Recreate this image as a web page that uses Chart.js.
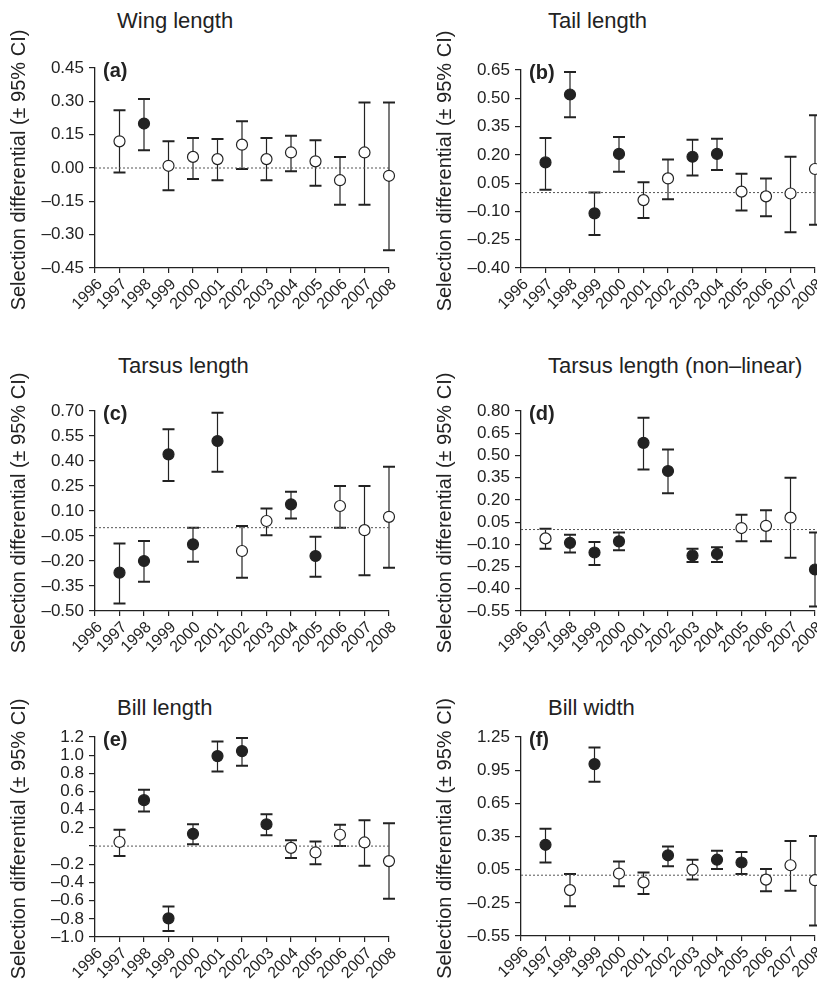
<!DOCTYPE html>
<html>
<head>
<meta charset="utf-8">
<script src="https://cdn.jsdelivr.net/npm/chart.js@4.4.0/dist/chart.umd.min.js"></script>
<style>
  html, body { margin: 0; padding: 0; background: #fff; overflow: hidden; }
  body { width: 817px; height: 981px; position: relative; font-family: "Liberation Sans", Arial, sans-serif; }
  canvas { position: absolute; }
  .ttl { position: absolute; font-size: 22px; line-height: 22px; color: #222; white-space: nowrap; }
</style>
</head>
<body>
<script>
// ---- data ----
const years = [1997, 1998, 1999, 2000, 2001, 2002, 2003, 2004, 2005, 2006, 2007, 2008];
const yearTicks = [1996, 1997, 1998, 1999, 2000, 2001, 2002, 2003, 2004, 2005, 2006, 2007, 2008];

// (a) wing length
const wingMean = [0.12, 0.20, 0.01, 0.05, 0.04, 0.105, 0.04, 0.07, 0.03, -0.055, 0.07, -0.035];
const wingLow  = [-0.02, 0.08, -0.10, -0.05, -0.055, -0.005, -0.055, -0.015, -0.08, -0.165, -0.165, -0.37];
const wingHigh = [0.26, 0.31, 0.12, 0.135, 0.13, 0.21, 0.135, 0.145, 0.125, 0.05, 0.295, 0.295];
const wingSig  = [0, 1, 0, 0, 0, 0, 0, 0, 0, 0, 0, 0];
const wingTicks = [-0.45, -0.30, -0.15, 0, 0.15, 0.30, 0.45];
const wingTickLabels = ['\u20130.45', '\u20130.30', '\u20130.15', '0.00', '0.15', '0.30', '0.45'];

// (b) tail length
const tailMean = [0.16, 0.52, -0.11, 0.205, -0.04, 0.075, 0.19, 0.205, 0.005, -0.02, -0.005, 0.125];
const tailLow  = [0.015, 0.40, -0.225, 0.11, -0.135, -0.035, 0.09, 0.12, -0.095, -0.125, -0.21, -0.17];
const tailHigh = [0.29, 0.64, 0.0, 0.295, 0.055, 0.175, 0.28, 0.285, 0.10, 0.075, 0.19, 0.41];
const tailSig  = [1, 1, 1, 1, 0, 0, 1, 1, 0, 0, 0, 0];
const tailTicks = [-0.40, -0.25, -0.10, 0.05, 0.20, 0.35, 0.50, 0.65];
const tailTickLabels = ['\u20130.40', '\u20130.25', '\u20130.10', '0.05', '0.20', '0.35', '0.50', '0.65'];

// (c) tarsus length
const tarsusMean = [-0.27, -0.20, 0.44, -0.10, 0.52, -0.14, 0.04, 0.14, -0.17, 0.13, -0.015, 0.065];
const tarsusLow  = [-0.455, -0.325, 0.28, -0.205, 0.335, -0.30, -0.045, 0.055, -0.295, 0.0, -0.285, -0.24];
const tarsusHigh = [-0.095, -0.08, 0.59, 0.0, 0.69, 0.01, 0.115, 0.215, -0.055, 0.25, 0.25, 0.365];
const tarsusSig  = [1, 1, 1, 1, 1, 0, 0, 1, 1, 0, 0, 0];
const tarsusTicks = [-0.50, -0.35, -0.20, -0.05, 0.10, 0.25, 0.40, 0.55, 0.70];
const tarsusTickLabels = ['\u20130.50', '\u20130.35', '\u20130.20', '\u20130.05', '0.10', '0.25', '0.40', '0.55', '0.70'];

// (d) tarsus length, non-linear
const tarsusNlMean = [-0.06, -0.09, -0.155, -0.08, 0.585, 0.395, -0.175, -0.165, 0.01, 0.025, 0.08, -0.27];
const tarsusNlLow  = [-0.13, -0.155, -0.24, -0.14, 0.405, 0.245, -0.22, -0.22, -0.08, -0.08, -0.19, -0.52];
const tarsusNlHigh = [0.005, -0.035, -0.085, -0.02, 0.755, 0.54, -0.13, -0.12, 0.10, 0.13, 0.35, -0.02];
const tarsusNlSig  = [0, 1, 1, 1, 1, 1, 1, 1, 0, 0, 0, 1];
const tarsusNlTicks = [-0.55, -0.40, -0.25, -0.10, 0.05, 0.20, 0.35, 0.50, 0.65, 0.80];
const tarsusNlTickLabels = ['\u20130.55', '\u20130.40', '\u20130.25', '\u20130.10', '0.05', '0.20', '0.35', '0.50', '0.65', '0.80'];

// (e) bill length
const billLenMean = [0.045, 0.505, -0.795, 0.135, 0.99, 1.045, 0.24, -0.02, -0.07, 0.125, 0.04, -0.165];
const billLenLow  = [-0.11, 0.38, -0.935, 0.02, 0.82, 0.885, 0.12, -0.13, -0.20, 0.0, -0.215, -0.58];
const billLenHigh = [0.18, 0.62, -0.665, 0.24, 1.15, 1.19, 0.35, 0.065, 0.05, 0.235, 0.285, 0.25];
const billLenSig  = [0, 1, 1, 1, 1, 1, 1, 0, 0, 0, 0, 0];
const billLenTicks = [-1.0, -0.8, -0.6, -0.4, -0.2, 0, 0.2, 0.4, 0.6, 0.8, 1.0, 1.2];
const billLenTickLabels = ['\u20131.0', '\u20130.8', '\u20130.6', '\u20130.4', '\u20130.2', '', '0.2', '0.4', '0.6', '0.8', '1.0', '1.2'];

// (f) bill width
const billWidMean = [0.275, -0.135, 1.005, 0.015, -0.065, 0.18, 0.05, 0.14, 0.115, -0.04, 0.09, -0.045];
const billWidLow  = [0.115, -0.28, 0.845, -0.10, -0.17, 0.08, -0.04, 0.055, 0.01, -0.145, -0.14, -0.455];
const billWidHigh = [0.42, 0.01, 1.155, 0.125, 0.025, 0.26, 0.14, 0.22, 0.21, 0.055, 0.31, 0.355];
const billWidSig  = [1, 0, 1, 0, 0, 1, 0, 1, 1, 0, 0, 0];
const billWidTicks = [-0.55, -0.25, 0.05, 0.35, 0.65, 0.95, 1.25];
const billWidTickLabels = ['\u20130.55', '\u20130.25', '0.05', '0.35', '0.65', '0.95', '1.25'];

const yTitle = 'Selection differential (\u00b1 95% CI)';
const INK = '#222';
const FONT = '"Liberation Sans", Arial, sans-serif';
const PAD_TOP = 52;

Chart.defaults.font.family = FONT;
Chart.defaults.color = INK;

// ---- panel layout (positions only; plotTop = pixel row of the top y tick) ----
const panels = [
  { letter: '(a)', title: 'Wing length', left: 0, plotTop: 68, plotH: 200, tx: 117, ty: 10,
    mean: wingMean, low: wingLow, high: wingHigh, sig: wingSig, ticks: wingTicks, labels: wingTickLabels },
  { letter: '(b)', title: 'Tail length', left: 426, plotTop: 70, plotH: 198, tx: 548, ty: 10,
    mean: tailMean, low: tailLow, high: tailHigh, sig: tailSig, ticks: tailTicks, labels: tailTickLabels },
  { letter: '(c)', title: 'Tarsus length', left: 0, plotTop: 411, plotH: 200, tx: 118, ty: 355,
    mean: tarsusMean, low: tarsusLow, high: tarsusHigh, sig: tarsusSig, ticks: tarsusTicks, labels: tarsusTickLabels },
  { letter: '(d)', title: 'Tarsus length (non\u2013linear)', left: 426, plotTop: 411, plotH: 200, tx: 548, ty: 355,
    mean: tarsusNlMean, low: tarsusNlLow, high: tarsusNlHigh, sig: tarsusNlSig, ticks: tarsusNlTicks, labels: tarsusNlTickLabels },
  { letter: '(e)', title: 'Bill length', left: 0, plotTop: 737, plotH: 200, tx: 117, ty: 697,
    mean: billLenMean, low: billLenLow, high: billLenHigh, sig: billLenSig, ticks: billLenTicks, labels: billLenTickLabels },
  { letter: '(f)', title: 'Bill width', left: 426, plotTop: 737, plotH: 199, tx: 548, ty: 697,
    mean: billWidMean, low: billWidLow, high: billWidHigh, sig: billWidSig, ticks: billWidTicks, labels: billWidTickLabels }
];

// error bars, drawn through the chart's own scales
function errorBars(low, high) {
  return {
    id: 'errorBars',
    beforeDatasetsDraw(chart) {
      const { ctx, scales: { x, y } } = chart;
      ctx.save();
      ctx.strokeStyle = INK;
      low.forEach((lo, i) => {
        const px = x.getPixelForValue(years[i]);
        const yl = y.getPixelForValue(lo);
        const yh = y.getPixelForValue(high[i]);
        ctx.lineWidth = 1.2;
        ctx.beginPath(); ctx.moveTo(px, yl); ctx.lineTo(px, yh); ctx.stroke();
        ctx.lineWidth = 2;
        ctx.beginPath();
        ctx.moveTo(px - 6, yl); ctx.lineTo(px + 6, yl);
        ctx.moveTo(px - 6, yh); ctx.lineTo(px + 6, yh);
        ctx.stroke();
      });
      ctx.restore();
    }
  };
}

// panel letter inside the plot + rotated y title (chart.js clips long axis titles)
function panelText(txt) {
  return {
    id: 'panelText',
    afterDraw(chart) {
      const { ctx, chartArea } = chart;
      ctx.save();
      ctx.font = 'bold 20px ' + FONT;
      ctx.fillStyle = INK;
      ctx.textBaseline = 'middle';
      ctx.fillText(txt, chartArea.left + 8, chartArea.top + 3);

      ctx.font = '20px ' + FONT;
      ctx.translate(19, (chartArea.top + chartArea.bottom) / 2 + 2);
      ctx.rotate(-Math.PI / 2);
      ctx.textAlign = 'center';
      ctx.fillText(yTitle, 0, 0);
      ctx.restore();
    }
  };
}

panels.forEach(p => {
  const t = document.createElement('div');
  t.className = 'ttl';
  t.style.left = p.tx + 'px';
  t.style.top = p.ty + 'px';
  t.textContent = p.title;
  document.body.appendChild(t);

  const cv = document.createElement('canvas');
  const h = PAD_TOP + p.plotH + 60;
  cv.width = 408; cv.height = h;
  cv.style.left = p.left + 'px';
  cv.style.top = (p.plotTop - PAD_TOP) + 'px';
  cv.style.width = '408px'; cv.style.height = h + 'px';
  document.body.appendChild(cv);

  new Chart(cv, {
    type: 'scatter',
    data: {
      datasets: [
        {
          data: years.map((yr, i) => ({ x: yr, y: p.mean[i] })),
          pointRadius: 5.5,
          pointBorderWidth: 1.2,
          pointBorderColor: INK,
          pointBackgroundColor: p.sig.map(s => s ? INK : '#fff'),
          showLine: false,
          clip: false,
          order: 1
        },
        {
          type: 'line',
          data: [{ x: 1996, y: 0 }, { x: 2008, y: 0 }],
          borderColor: '#555',
          borderWidth: 1,
          borderDash: [2, 2],
          pointRadius: 0,
          order: 2
        }
      ]
    },
    options: {
      responsive: false,
      animation: false,
      events: [],
      layout: { padding: { left: 0, right: 19, top: PAD_TOP, bottom: 0 } },
      plugins: { legend: { display: false }, tooltip: { enabled: false } },
      scales: {
        x: {
          type: 'linear', min: 1996, max: 2008,
          afterBuildTicks: s => { s.ticks = yearTicks.map(v => ({ value: v })); },
          afterFit: s => { s.height = 60; },
          ticks: { autoSkip: false, minRotation: 45, maxRotation: 45, color: INK, font: { size: 16 }, padding: 2,
                   labelOffset: 5, callback: v => String(v) },
          grid: { drawOnChartArea: false, drawTicks: true, tickLength: 5, color: INK, lineWidth: 1.2 },
          border: { display: true, color: INK, width: 1.3 }
        },
        y: {
          type: 'linear', min: p.ticks[0], max: p.ticks[p.ticks.length - 1],
          afterBuildTicks: s => { s.ticks = p.ticks.map(v => ({ value: v })); },
          afterFit: s => { s.width = 95; },
          ticks: { autoSkip: false, color: INK, font: { size: 17 }, padding: 5,
                   callback: (v, i) => p.labels[i] },
          grid: { drawOnChartArea: false, drawTicks: true, tickLength: 6, color: INK, lineWidth: 1.2 },
          border: { display: true, color: INK, width: 1.3 }
        }
      }
    },
    plugins: [errorBars(p.low, p.high), panelText(p.letter)]
  });
});
</script>
</body>
</html>
